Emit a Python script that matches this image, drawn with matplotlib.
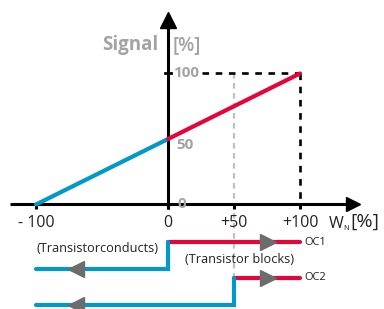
import matplotlib
matplotlib.use("Agg")
import matplotlib.pyplot as plt

# ---- data ----
wn = [-100, 0, 100]            # W_N in %
signal = [0, 50, 100]          # signal in %
x_ticks = [-100, 0, 50, 100]
x_tick_labels = ["- 100", "0", "+50", "+100"]
y_ticks = [0, 50, 100]
y_tick_labels = ["0", "50", "100"]
oc1_switch = 0                 # OC1 switching point (W_N %)
oc2_switch = 50                # OC2 switching point (W_N %)

plt.rcParams['font.family'] = ['Open Sans', 'DejaVu Sans']

BLUE = "#0099c9"
RED = "#e5053a"
GRAY_TXT = "#a3a3a3"
TRI = "#6c6c6c"
TXT = "#222222"

fig = plt.figure(figsize=(3.84, 3.09), dpi=100)
ax = fig.add_axes([0, 0, 1, 1])
ax.set_xlim(-127.3, 163.6)
ax.set_ylim(-79.8, 156.1)
ax.axis("off")

# helper lines / dashed guides
ax.plot([26, 100], [100, 100], color="black", lw=1.9, ls=(0, (2.5, 2.5)), zorder=2)
ax.plot([100, 100], [100, 0], color="black", lw=1.9, ls=(0, (2.5, 2.5)), zorder=2)
ax.plot([oc2_switch, oc2_switch], [100, -56], color="#c0c0c0", lw=1.6, ls=(0, (2.5, 2.0)), zorder=1)

# axes
ax.plot([-119.5, 139], [0, 0], color="black", lw=2.2, zorder=3, solid_capstyle="butt")
ax.plot([0, 0], [-3.5, 140], color="black", lw=2.2, zorder=3, solid_capstyle="butt")
ax.plot([140.2], [0], marker=">", ms=9.5, color="black", zorder=4)
ax.plot([0], [140.8], marker="^", ms=11.5, color="black", zorder=4)
for t in x_ticks:
    ax.plot([t, t], [0, -3.5], color="black", lw=2.2, zorder=3, solid_capstyle="butt")
ax.plot([-2.5, 2.5], [100, 100], color="black", lw=2.0, zorder=3)

# signal line
ax.plot(wn[:2], signal[:2], color=BLUE, lw=3.0, zorder=5, solid_capstyle="round")
ax.plot(wn[1:], signal[1:], color=RED, lw=3.0, zorder=5, solid_capstyle="round")

# tick labels
for t, lab in zip(x_ticks, x_tick_labels):
    ax.text(t, -14, lab, ha="center", va="center", fontsize=11.5, color=TXT)
for t, lab in zip(y_ticks, y_tick_labels):
    yoff = -4.5 if t == 50 else 0
    xpos = {0: 7.5, 50: 6.5, 100: 3.8}[t]
    ax.text(xpos, t + yoff, lab, ha="left", va="center", fontsize=11,
            fontweight="bold", color=GRAY_TXT)

# axis titles
ax.text(-7, 122, "Signal", ha="right", va="center", fontsize=13.5,
        fontweight="bold", color=GRAY_TXT)
ax.text(3.3, 122, "[%]", ha="left", va="center", fontsize=13.5,
        fontweight="semibold", color=GRAY_TXT)
ax.text(122, -15, "W", ha="left", va="center", fontsize=11.5, color=TXT)
ax.text(133, -18.5, "N", ha="left", va="center", fontsize=5.5, color=TXT)
ax.text(138, -13.5, "[%]", ha="left", va="center", fontsize=14, color=TXT)

# OC1
oc1_hi, oc1_lo = -29, -49.5
ax.plot([oc1_switch, 100], [oc1_hi, oc1_hi], color=RED, lw=3.0, solid_capstyle="round", zorder=5)
ax.plot([-100, oc1_switch, oc1_switch], [oc1_lo, oc1_lo, oc1_hi], color=BLUE, lw=3.0,
        solid_capstyle="round", solid_joinstyle="miter", zorder=5)
ax.plot([-70], [oc1_lo], marker="<", ms=11, color=TRI, zorder=6)
ax.plot([76], [oc1_hi], marker=">", ms=11, color=TRI, zorder=6)
ax.text(103.5, oc1_hi, "OC1", ha="left", va="center", fontsize=8, color=TXT)
ax.text(-100, -33.5, "(Transistorconducts)", ha="left", va="center", fontsize=9.2, color=TXT)
ax.text(13, -42, "(Transistor blocks)", ha="left", va="center", fontsize=9.2, color=TXT)

# OC2
oc2_hi, oc2_lo = -56, -76.5
ax.plot([oc2_switch, 100], [oc2_hi, oc2_hi], color=RED, lw=3.0, solid_capstyle="round", zorder=5)
ax.plot([-100, oc2_switch, oc2_switch], [oc2_lo, oc2_lo, oc2_hi], color=BLUE, lw=3.0,
        solid_capstyle="round", solid_joinstyle="miter", zorder=5)
ax.plot([-70], [oc2_lo], marker="<", ms=11, color=TRI, zorder=6)
ax.plot([76], [oc2_hi], marker=">", ms=11, color=TRI, zorder=6)
ax.text(103.5, oc2_hi, "OC2", ha="left", va="center", fontsize=8, color=TXT)

fig.savefig("out.png", dpi=100)
